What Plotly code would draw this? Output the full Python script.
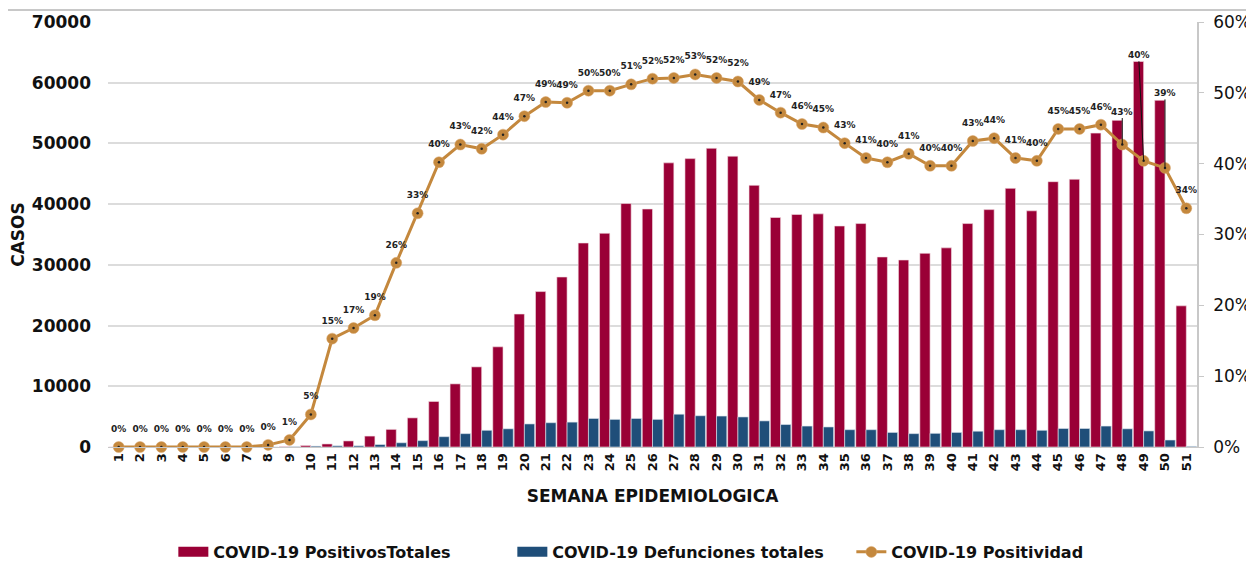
import plotly.graph_objects as go

semanas = [str(i) for i in range(1, 52)]

positivos = [0, 0, 0, 0, 0, 0, 0, 0, 50, 250,
             500, 1000, 1800, 2900, 4800, 7500, 10400, 13200, 16500, 21900,
             25600, 28000, 33600, 35200, 40100, 39200, 46800, 47500, 49200, 47900,
             43100, 37800, 38300, 38400, 36400, 36800, 31300, 30800, 31900, 32800,
             36800, 39100, 42600, 38900, 43700, 44100, 51700, 53800, 63500, 57100,
             23250]

defunciones = [0, 0, 0, 0, 0, 0, 0, 0, 50, 150,
               200, 200, 400, 700, 1050, 1700, 2200, 2750, 3000, 3800,
               4000, 4100, 4700, 4550, 4700, 4550, 5400, 5150, 5100, 4950,
               4300, 3700, 3450, 3300, 2850, 2850, 2400, 2200, 2250, 2400,
               2600, 2850, 2850, 2750, 3050, 3050, 3450, 3000, 2650, 1150,
               100]

positividad = [0.0, 0.0, 0.0, 0.0, 0.0, 0.0, 0.0, 0.003, 0.010, 0.046,
               0.153, 0.168, 0.186, 0.260, 0.330, 0.402, 0.427, 0.421, 0.441, 0.467,
               0.487, 0.486, 0.503, 0.503, 0.512, 0.520, 0.521, 0.526, 0.521, 0.516,
               0.490, 0.472, 0.456, 0.451, 0.429, 0.408, 0.402, 0.414, 0.397, 0.397,
               0.432, 0.436, 0.408, 0.404, 0.449, 0.449, 0.455, 0.427, 0.404, 0.394,
               0.337]

# labels moved by hand with a leader line (week, x offset px, y offset px)
leader_labels = [("48", 0, -33), ("49", -5, -106), ("50", 0, -75)]

RED = "#9a0036"
BLUE = "#1f4e79"
GOLD = "#c4883d"
FONT = "DejaVu Sans"
leader_weeks = [w for w, _, _ in leader_labels]

line_text = ["" if s in leader_weeks else f"{round(p * 100):.0f}%"
             for s, p in zip(semanas, positividad)]

fig = go.Figure()
fig.add_trace(go.Bar(
    x=semanas, y=positivos, name="COVID-19 PositivosTotales", showlegend=False,
    legendgroup="pos",
    marker=dict(color=RED, line=dict(color="#f3dfe4", width=0.6)),
))
fig.add_trace(go.Bar(
    x=semanas, y=defunciones, name="COVID-19 Defunciones totales", showlegend=False,
    legendgroup="def",
    marker=dict(color=BLUE, line=dict(color="#dfe6ee", width=0.6)),
))
# legend swatches (wide rectangles like the original)
fig.add_trace(go.Scatter(
    x=[None], y=[None], mode="lines", name="COVID-19 PositivosTotales",
    legendgroup="pos", line=dict(color=RED, width=10),
))
fig.add_trace(go.Scatter(
    x=[None], y=[None], mode="lines", name="COVID-19 Defunciones totales",
    legendgroup="def", line=dict(color=BLUE, width=10),
))
fig.add_trace(go.Scatter(
    x=semanas, y=positividad, name="COVID-19 Positividad", yaxis="y2",
    mode="lines+markers",
    line=dict(color=GOLD, width=3),
    marker=dict(color=GOLD, size=11, line=dict(color="#d9a56a", width=0.5)),
    cliponaxis=False,
))
fig.add_trace(go.Scatter(
    x=semanas, y=positividad, yaxis="y2", mode="markers", showlegend=False,
    marker=dict(color="#222222", size=2.5), hoverinfo="skip",
))
# data labels
fig.add_trace(go.Scatter(
    x=semanas, y=positividad, yaxis="y2", mode="markers+text", showlegend=False,
    text=line_text, textposition="top center",
    textfont=dict(family=FONT, size=9, color="#222222", weight="bold"),
    marker=dict(size=19, opacity=0), hoverinfo="skip", cliponaxis=False,
))

for w, ax, ay in leader_labels:
    idx = semanas.index(w)
    fig.add_annotation(
        x=idx, y=positividad[idx], xref="x", yref="y2",
        text=f"{round(positividad[idx] * 100):.0f}%", showarrow=True,
        arrowhead=0, arrowwidth=1, arrowcolor="#111111", ax=ax, ay=ay,
        standoff=0, font=dict(family=FONT, size=9, color="#222222", weight="bold"),
    )

fig.add_shape(type="line", xref="paper", yref="paper", x0=-0.2, x1=1.1,
              y0=1.028, y1=1.028, line=dict(color="#c8c8c8", width=2))

fig.update_layout(
    width=1246, height=554,
    margin=dict(l=100, r=57, t=14, b=115, autoexpand=False),
    paper_bgcolor="white", plot_bgcolor="white",
    barmode="group", bargap=0.04, bargroupgap=0,
    font=dict(family=FONT, color="#111111"),
    xaxis=dict(
        type="category", tickangle=-90, range=[-0.5, 50.5], automargin=False,
        tickfont=dict(family=FONT, size=13, color="#111111", weight="bold"),
        title=dict(text="SEMANA EPIDEMIOLOGICA", standoff=19,
                   font=dict(family=FONT, size=17, color="#111111", weight="bold")),
        showline=True, linecolor="#c8c8c8", linewidth=1,
        showgrid=False, ticks="",
    ),
    yaxis=dict(
        range=[0, 70000], dtick=10000, tickformat="d", automargin=False,
        tickfont=dict(family=FONT, size=17, color="#111111", weight="bold"),
        ticklabelstandoff=16,
        title=dict(text="CASOS", standoff=12,
                   font=dict(family=FONT, size=17, color="#111111", weight="bold")),
        showgrid=True, gridcolor="#dcdcdc", gridwidth=1.5,
        zeroline=False, showline=False, ticks="",
    ),
    yaxis2=dict(
        range=[0, 0.6], dtick=0.1, tickformat=".0%", overlaying="y", side="right",
        automargin=False, ticklabelstandoff=6,
        tickfont=dict(family=FONT, size=17, color="#111111"),
        showgrid=False, zeroline=False, showline=True, linecolor="#c8c8c8",
        linewidth=1.5, ticks="outside", ticklen=5, tickcolor="#c8c8c8",
    ),
    legend=dict(
        orientation="h", x=0.06, xanchor="left", y=-0.247, yanchor="middle",
        font=dict(family=FONT, size=16, color="#111111", weight="bold"),
        traceorder="normal", entrywidth=294, entrywidthmode="pixels",
    ),
)

fig.write_html("out.html")
